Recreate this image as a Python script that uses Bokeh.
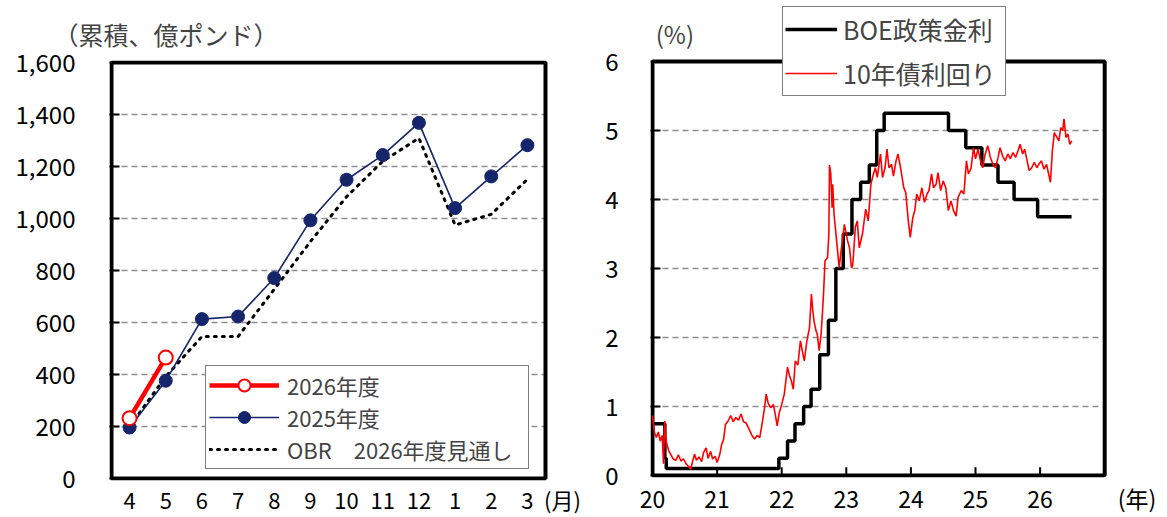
import pandas as pd
from bokeh.plotting import figure
from bokeh.layouts import row
from bokeh.models import (Range1d, Legend, LegendItem, Label,
                          FixedTicker, NumeralTickFormatter)
from bokeh.embed import file_html
from bokeh.resources import INLINE

FONT = "Noto Sans CJK JP"

# ---------------- left chart data ----------------
months = ["4", "5", "6", "7", "8", "9", "10", "11", "12", "1", "2", "3"]
month_unit = "(月)"
fy2026 = [232, 465]
fy2025 = [196, 376, 613, 623, 771, 993, 1149, 1244, 1368, 1040, 1162, 1282]
obr_2026 = [200, 392, 546, 546, 728, 911, 1084, 1220, 1309, 975, 1016, 1151]
left_yticks = [0, 200, 400, 600, 800, 1000, 1200, 1400, 1600]
left_title = "（累積、億ポンド）"

# ---------------- right chart data ----------------
boe_dates = ["2020-01-01", "2020-03-11", "2020-03-19", "2021-12-16", "2022-02-03",
             "2022-03-17", "2022-05-05", "2022-06-16", "2022-08-04", "2022-09-22",
             "2022-11-03", "2022-12-15", "2023-02-02", "2023-03-23", "2023-05-11",
             "2023-06-22", "2023-08-03", "2024-08-01", "2024-11-07", "2025-02-06",
             "2025-05-08", "2025-08-07", "2025-12-18", "2026-06-28"]
boe_rate = [0.75, 0.25, 0.10, 0.25, 0.50, 0.75, 1.00, 1.25, 1.75, 2.25, 3.00, 3.50,
            4.00, 4.25, 4.50, 5.00, 5.25, 5.00, 4.75, 4.50, 4.25, 4.00, 3.75, 3.75]

gilt_year = [2020.00, 2020.03, 2020.06, 2020.09, 2020.12, 2020.15, 2020.17, 2020.19,
             2020.21, 2020.25, 2020.28, 2020.32, 2020.36, 2020.40, 2020.44, 2020.48,
             2020.52, 2020.56, 2020.59, 2020.62, 2020.65, 2020.68, 2020.72, 2020.76,
             2020.79, 2020.83, 2020.86, 2020.90, 2020.93, 2020.97, 2021.00, 2021.04,
             2021.07, 2021.10, 2021.13, 2021.17, 2021.21, 2021.25, 2021.29, 2021.33,
             2021.37, 2021.41, 2021.45, 2021.50, 2021.54, 2021.58, 2021.62, 2021.66,
             2021.70, 2021.73, 2021.76, 2021.79, 2021.83, 2021.87, 2021.90, 2021.93,
             2021.96, 2022.00, 2022.04, 2022.09, 2022.12, 2022.15, 2022.18, 2022.21,
             2022.25, 2022.29, 2022.32, 2022.35, 2022.39, 2022.43, 2022.46, 2022.48,
             2022.50, 2022.53, 2022.55, 2022.58, 2022.61, 2022.63, 2022.65, 2022.67,
             2022.71, 2022.73, 2022.74, 2022.76, 2022.78, 2022.79, 2022.81, 2022.85,
             2022.89, 2022.92, 2022.97, 2023.02, 2023.05, 2023.08, 2023.10, 2023.14,
             2023.17, 2023.20, 2023.25, 2023.30, 2023.34, 2023.38, 2023.42, 2023.45,
             2023.48, 2023.53, 2023.56, 2023.60, 2023.63, 2023.66, 2023.70, 2023.73,
             2023.77, 2023.80, 2023.84, 2023.89, 2023.92, 2023.96, 2023.99, 2024.03,
             2024.06, 2024.09, 2024.13, 2024.17, 2024.21, 2024.25, 2024.28, 2024.32,
             2024.35, 2024.39, 2024.42, 2024.46, 2024.50, 2024.54, 2024.58, 2024.62,
             2024.66, 2024.70, 2024.73, 2024.78, 2024.82, 2024.86, 2024.89, 2024.93,
             2024.97, 2025.00, 2025.04, 2025.07, 2025.11, 2025.15, 2025.19, 2025.23,
             2025.27, 2025.31, 2025.35, 2025.38, 2025.42, 2025.46, 2025.50, 2025.54,
             2025.58, 2025.62, 2025.66, 2025.69, 2025.73, 2025.76, 2025.80, 2025.83,
             2025.87, 2025.91, 2025.95, 2025.98, 2026.02, 2026.06, 2026.10, 2026.12,
             2026.16, 2026.19, 2026.22, 2026.26, 2026.29, 2026.32, 2026.35, 2026.37,
             2026.40, 2026.43, 2026.46, 2026.49]
gilt_10y = [0.87, 0.62, 0.55, 0.63, 0.50, 0.58, 0.17, 0.79,
            0.50, 0.36, 0.31, 0.24, 0.22, 0.30, 0.21, 0.24,
            0.17, 0.13, 0.09, 0.20, 0.31, 0.22, 0.27, 0.20,
            0.33, 0.40, 0.25, 0.35, 0.24, 0.28, 0.19, 0.30,
            0.45, 0.52, 0.74, 0.79, 0.87, 0.78, 0.84, 0.80,
            0.89, 0.78, 0.76, 0.66, 0.58, 0.53, 0.58, 0.55,
            0.77, 0.95, 1.18, 1.05, 0.98, 1.03, 0.89, 0.72,
            0.90, 1.03, 1.18, 1.57, 1.45, 1.37, 1.25, 1.66,
            1.60, 1.95, 1.80, 1.66, 1.95, 2.14, 2.63, 2.40,
            2.24, 2.10, 2.05, 1.81, 2.05, 2.35, 2.68, 3.11,
            3.16, 3.50, 4.50, 4.37, 3.88, 4.22, 3.79, 3.40,
            3.01, 3.26, 3.64, 3.40, 3.30, 3.01, 3.05, 3.60,
            3.69, 3.30, 3.50, 3.86, 3.69, 4.22, 4.37, 4.46,
            4.32, 4.66, 4.32, 4.46, 4.73, 4.46, 4.51, 4.34,
            4.56, 4.66, 4.46, 4.17, 4.10, 3.69, 3.45, 3.74,
            3.84, 4.08, 3.98, 4.17, 3.96, 4.08, 4.13, 4.37,
            4.17, 4.22, 4.39, 4.13, 4.27, 4.17, 3.84, 3.98,
            3.84, 3.76, 4.03, 4.13, 4.08, 4.56, 4.37, 4.45,
            4.75, 4.59, 4.73, 4.59, 4.46, 4.66, 4.78, 4.61,
            4.51, 4.46, 4.61, 4.75, 4.63, 4.56, 4.66, 4.59,
            4.68, 4.61, 4.71, 4.80, 4.66, 4.73, 4.56, 4.42,
            4.46, 4.54, 4.46, 4.51, 4.56, 4.44, 4.51, 4.42,
            4.25, 4.71, 4.97, 4.90, 4.85, 5.04, 5.00, 5.17,
            4.90, 4.95, 4.80, 4.85]
year_ticks = [2020, 2021, 2022, 2023, 2024, 2025, 2026]
year_labels = ["20", "21", "22", "23", "24", "25", "26"]
year_unit = "(年)"
right_yticks = [0, 1, 2, 3, 4, 5, 6]
right_title = "(%)"


def dec_year(s):
    t = pd.Timestamp(s)
    start = pd.Timestamp(year=t.year, month=1, day=1)
    end = pd.Timestamp(year=t.year + 1, month=1, day=1)
    return t.year + (t - start) / (end - start)


boe_x = [dec_year(d) for d in boe_dates]
x_idx = list(range(len(months)))

GRID = "#8c8c8c"


def style(p):
    p.outline_line_color = None
    p.background_fill_color = "white"
    p.border_fill_color = "white"
    p.grid.grid_line_color = None
    for ax in (p.xaxis[0], p.yaxis[0]):
        ax.axis_line_color = None
        ax.minor_tick_line_color = None
        ax.major_tick_in = 10
        ax.major_tick_out = 0
        ax.major_tick_line_color = "black"
        ax.major_tick_line_width = 2
        ax.major_label_text_font = FONT
        ax.major_label_text_color = "black"
        ax.major_label_text_font_size = "24px"
    p.xaxis.major_tick_line_color = None


# ---------------- left figure ----------------
LPX = 434 / 12.0
LPY = 416 / 1600.0
p1 = figure(x_range=Range1d(-0.5 - 2 / LPX, -0.5 - 2 / LPX + 491 / LPX),
            y_range=Range1d(-2 / LPY, 1600 + 2 / LPY),
            frame_width=491, frame_height=420, frame_align=False,
            min_border_left=109, min_border_right=0, min_border_top=60, min_border_bottom=37,
            output_backend="svg", toolbar_location=None)
style(p1)
p1.yaxis.ticker = FixedTicker(ticks=left_yticks)
p1.yaxis.formatter = NumeralTickFormatter(format="0,0")
p1.yaxis.major_label_standoff = 34
p1.xaxis.ticker = FixedTicker(ticks=x_idx + [11.97])
p1.xaxis.major_label_overrides = dict(zip(x_idx + [11.97], months + [month_unit]))
p1.xaxis.major_label_standoff = 2
p1.xaxis.major_label_text_font_size = "22px"

p1.title.text = left_title
p1.title.align = "left"
p1.title.offset = -56
p1.title.standoff = 17
p1.title.text_font = FONT
p1.title.text_font_size = "25px"
p1.title.text_font_style = "normal"

grid1 = left_yticks[1:-1]
p1.segment(x0=[x_idx[0] - 0.5] * len(grid1), x1=[x_idx[-1] + 0.5] * len(grid1),
           y0=grid1, y1=grid1, line_color=GRID, line_width=1.5, line_dash="6 4")
p1.quad(left=[x_idx[0] - 0.5], right=[x_idx[-1] + 0.5], bottom=[left_yticks[0]],
        top=[left_yticks[-1]], fill_color=None, line_color="black", line_width=4)

r_obr = p1.line(x_idx, obr_2026, line_color="black", line_width=3,
                line_dash="2 6", line_cap="round")
r25l = p1.line(x_idx, fy2025, line_color="#14256b", line_width=1.6)
r25m = p1.scatter(x_idx, fy2025, size=13, fill_color="#14256b", line_color="#14256b")
r26l = p1.line(x_idx[:2], fy2026, line_color="#ff0000", line_width=4.5)
r26m = p1.scatter(x_idx[:2], fy2026, size=14, fill_color="white", line_color="#ff0000",
                  line_width=2)

leg1 = Legend(items=[LegendItem(label="2026年度", renderers=[r26l, r26m]),
                     LegendItem(label="2025年度", renderers=[r25l, r25m]),
                     LegendItem(label="OBR　2026年度見通し", renderers=[r_obr])],
              location=(96, 11), orientation="vertical",
              label_text_font=FONT, label_text_font_size="22px",
              glyph_width=70, glyph_height=30, label_height=30, label_width=238,
              spacing=0, padding=3, margin=0, label_standoff=8,
              border_line_color="black", border_line_width=1.5,
              background_fill_color="white", background_fill_alpha=1.0)
p1.add_layout(leg1, "center")

# ---------------- right figure ----------------
RPX = 64.6
RPY = 69.0
p2 = figure(x_range=Range1d(2020 - 2 / RPX, 2020 - 2 / RPX + 517 / RPX),
            y_range=Range1d(-2 / RPY, -2 / RPY + 477 / RPY),
            frame_width=517, frame_height=477, frame_align=False,
            min_border_left=50, min_border_right=0, min_border_top=0, min_border_bottom=40,
            output_backend="svg", toolbar_location=None)
style(p2)
p2.yaxis.ticker = FixedTicker(ticks=right_yticks)
p2.yaxis.major_label_standoff = 32
p2.xaxis.ticker = FixedTicker(ticks=year_ticks + [2027.5])
p2.xaxis.major_label_overrides = dict(zip(year_ticks + [2027.5], year_labels + [year_unit]))
p2.xaxis.major_label_standoff = 3
p2.xaxis.major_label_text_font_size = "23px"

grid2 = right_yticks[1:-1]
p2.segment(x0=[year_ticks[0]] * len(grid2), x1=[year_ticks[-1] + 1] * len(grid2),
           y0=grid2, y1=grid2, line_color=GRID, line_width=1.5, line_dash="6 4")
p2.segment(x0=year_ticks, x1=year_ticks, y0=[0] * len(year_ticks),
           y1=[0.12] * len(year_ticks), line_color="black", line_width=2)
p2.quad(left=[year_ticks[0]], right=[year_ticks[-1] + 1], bottom=[right_yticks[0]],
        top=[right_yticks[-1]], fill_color=None, line_color="black", line_width=4)

r_boe = p2.step(boe_x, boe_rate, mode="after", line_color="black", line_width=3.5)
r_gilt = p2.line(gilt_year, gilt_10y, line_color="#ff0000", line_width=1.6)

leg2 = Legend(items=[LegendItem(label="BOE政策金利", renderers=[r_boe]),
                     LegendItem(label="10年債利回り", renderers=[r_gilt])],
              location=(132, 381), orientation="vertical",
              label_text_font=FONT, label_text_font_size="25px",
              glyph_width=52, glyph_height=40, label_height=40, label_width=160,
              spacing=4, padding=2, margin=0, label_standoff=6,
              border_line_color="black", border_line_width=1.5,
              background_fill_color="white", background_fill_alpha=1.0)
p2.add_layout(leg2, "center")

p2.add_layout(Label(x=2020.05, y=6.41, text=right_title, text_font=FONT,
                    text_font_size="24px", text_baseline="middle", text_align="left"))

layout = row(p1, p2)
open("out.html", "w").write(file_html(layout, INLINE))
